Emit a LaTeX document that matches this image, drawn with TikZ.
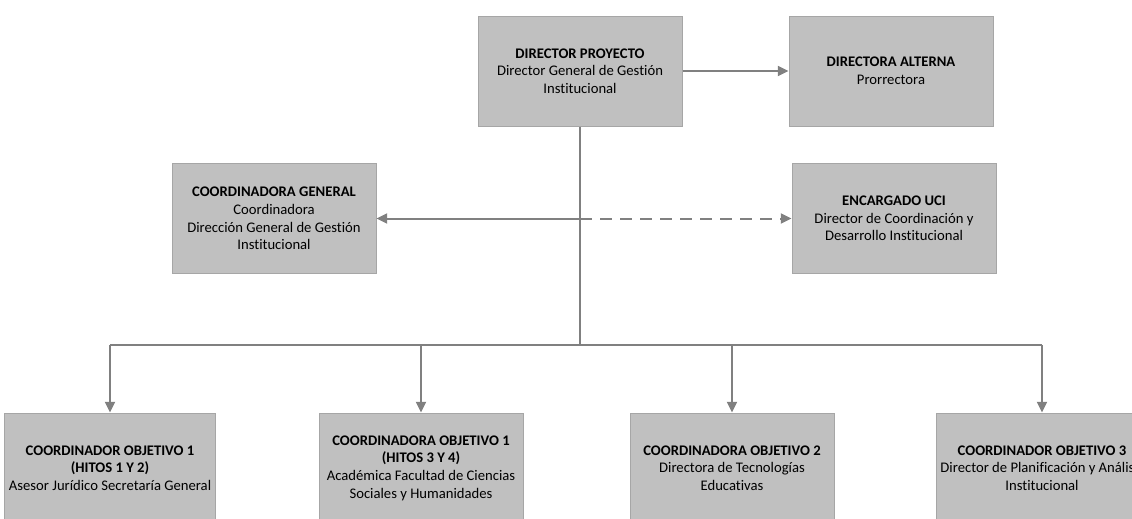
\documentclass[tikz,border=0pt]{standalone}
\usepackage{fontspec}
\setmainfont[Ligatures=NoCommon]{Carlito}
\usetikzlibrary{calc}
\usetikzlibrary{arrows.meta}

\definecolor{boxfill}{HTML}{C0C0C0}
\definecolor{boxline}{HTML}{A6A6A6}
\definecolor{linkgray}{HTML}{808080}

\tikzset{
  role/.style={draw=boxline, line width=0.75pt, fill=boxfill,
    minimum width=153pt, minimum height=82.5pt, align=center,
    font=\fontsize{11}{13.2}\selectfont},
  link/.style={draw=linkgray, line width=1.5pt},
  arr/.style={link, -{Triangle[length=8pt,width=7.5pt]}}
}

\begin{document}
\begin{tikzpicture}[x=0.75pt, y=-0.75pt]
  \clip (0,0) rectangle (1132,518);

  \node [role] (dp)  at (580,71)    {\textbf{DIRECTOR PROYECTO}\\Director General de Gestión\\Institucional};
  \node [role] (da)  at (891,71)    {\textbf{DIRECTORA ALTERNA}\\Prorrectora};
  \node [role] (cg)  at (274,218.5) {\textbf{COORDINADORA GENERAL}\\Coordinadora\\Dirección General de Gestión\\Institucional};
  \node [role] (uci) at (894,218.5) {\textbf{ENCARGADO UCI}\\Director de Coordinación y\\Desarrollo Institucional};

  \node [role] (obj1a) at (110,468)  {\textbf{COORDINADOR OBJETIVO 1}\\\textbf{(HITOS 1 Y 2)}\\Asesor Jurídico Secretaría General};
  \node [role] (obj1b) at (421,468)  {\textbf{COORDINADORA OBJETIVO 1}\\\textbf{(HITOS 3 Y 4)}\\Académica Facultad de Ciencias\\Sociales y Humanidades};
  \node [role] (obj2)  at (732,468)  {\textbf{COORDINADORA OBJETIVO 2}\\Directora de Tecnologías\\Educativas};
  \node [role] (obj3)  at (1042,468) {\textbf{COORDINADOR OBJETIVO 3}\\Director de Planificación y Análisis\\Institucional};

  \coordinate (hub) at (580,345);
  \coordinate (mid) at (dp.south |- cg.east);

  \draw [arr] (dp) -- (da);
  \draw [link] (dp.south) -- (hub);
  \draw [arr] (mid) -- (cg.east);
  \draw [arr, dash pattern=on 9pt off 6pt] (mid) -- (uci.west);

  % bus to the objectives
  \draw [link] (obj1a.north |- hub) -- (obj3.north |- hub);
  \draw [arr] (obj1a.north |- hub) -- (obj1a.north);
  \draw [arr] (obj1b.north |- hub) -- (obj1b.north);
  \draw [arr] (obj2.north |- hub) -- (obj2.north);
  \draw [arr] (obj3.north |- hub) -- (obj3.north);
\end{tikzpicture}
\end{document}
